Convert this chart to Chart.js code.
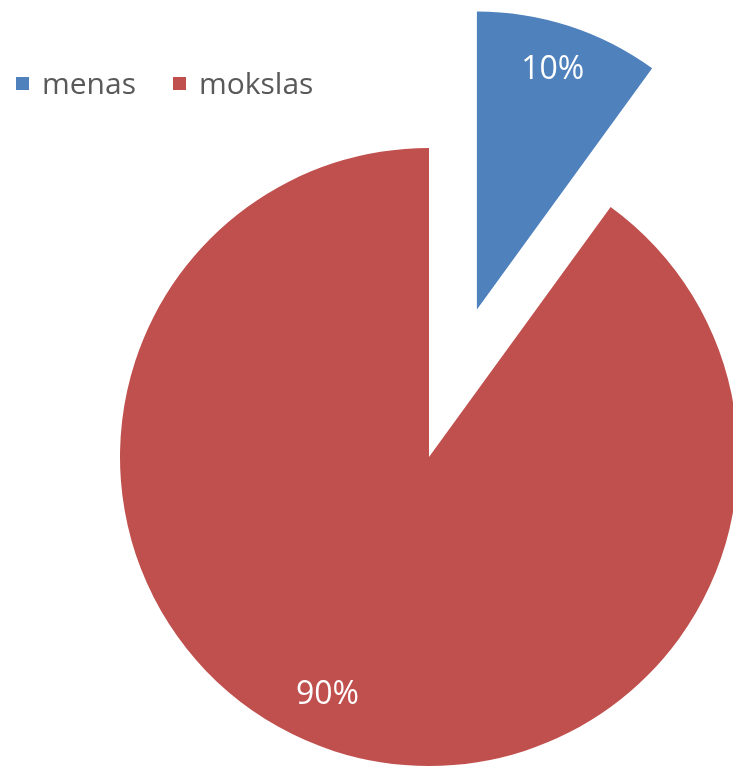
<!DOCTYPE html>
<html>
<head>
<meta charset="utf-8">
<script src="https://cdn.jsdelivr.net/npm/chart.js@4.4.1/dist/chart.umd.min.js"></script>
<style>
  html, body { margin: 0; padding: 0; width: 733px; height: 768px; overflow: hidden; background: #ffffff; }
  #wrap { position: absolute; left: 0; top: 0; width: 760px; height: 768px; }
  #legend { position: absolute; left: 16px; top: 68px; display: flex; align-items: center;
            font-family: 'Open Sans', sans-serif; font-size: 30px; line-height: 30px; color: #595959; gap: 37px; }
  .item { display: flex; align-items: center; }
  .box { width: 13px; height: 13px; margin-right: 13px; }
</style>
</head>
<body>
<div id="wrap"><canvas id="c" width="760" height="768"></canvas></div>
<div id="legend"></div>
<script>
// ---- data ----
const categories = ['menas', 'mokslas'];
const values = [10, 90];
const colors = ['#4F81BD', '#C0504D'];

// ---- style ----
const explode = { dist: [155, 0], radiusScale: [0.965, 1] };
const labelStyle = { frac: [0.85, 0.83], shiftDeg: [-0.6, 5.3], font: "32px 'Open Sans'", color: '#FFFFFF' };

const total = values.reduce((a, b) => a + b, 0);

const explodePlugin = {
  id: 'explode',
  afterDatasetsUpdate(chart) {
    const meta = chart.getDatasetMeta(0);
    meta.data.forEach((arc, i) => {
      const d = explode.dist[i];
      if (!d) return;
      const mid = (arc.startAngle + arc.endAngle) / 2;
      arc.x += Math.cos(mid) * d;
      arc.y += Math.sin(mid) * d;
      arc.outerRadius *= explode.radiusScale[i];
    });
  }
};

const labelPlugin = {
  id: 'pctLabels',
  afterDatasetsDraw(chart) {
    const ctx = chart.ctx;
    const meta = chart.getDatasetMeta(0);
    ctx.save();
    ctx.font = labelStyle.font;
    ctx.fillStyle = labelStyle.color;
    ctx.textAlign = 'center';
    ctx.textBaseline = 'middle';
    meta.data.forEach((arc, i) => {
      const a = (arc.startAngle + arc.endAngle) / 2 + labelStyle.shiftDeg[i] * Math.PI / 180;
      const r = arc.outerRadius * labelStyle.frac[i];
      const txt = Math.round(values[i] / total * 100) + '%';
      ctx.fillText(txt, arc.x + Math.cos(a) * r, arc.y + Math.sin(a) * r + 2);
    });
    ctx.restore();
  }
};

const chart = new Chart(document.getElementById('c'), {
  type: 'pie',
  data: {
    labels: categories,
    datasets: [{ data: values, backgroundColor: colors, borderWidth: 0 }]
  },
  options: {
    responsive: false,
    animation: false,
    devicePixelRatio: 1,
    layout: { padding: { left: 120, top: 148, right: 22, bottom: 2 } },
    plugins: { legend: { display: false }, tooltip: { enabled: false } }
  },
  plugins: [explodePlugin, labelPlugin]
});

// HTML legend built from the chart data
const legendEl = document.getElementById('legend');
categories.forEach((name, i) => {
  const item = document.createElement('div');
  item.className = 'item';
  const box = document.createElement('span');
  box.className = 'box';
  box.style.background = colors[i];
  const t = document.createElement('span');
  t.textContent = name;
  item.appendChild(box);
  item.appendChild(t);
  legendEl.appendChild(item);
});
</script>
</body>
</html>
